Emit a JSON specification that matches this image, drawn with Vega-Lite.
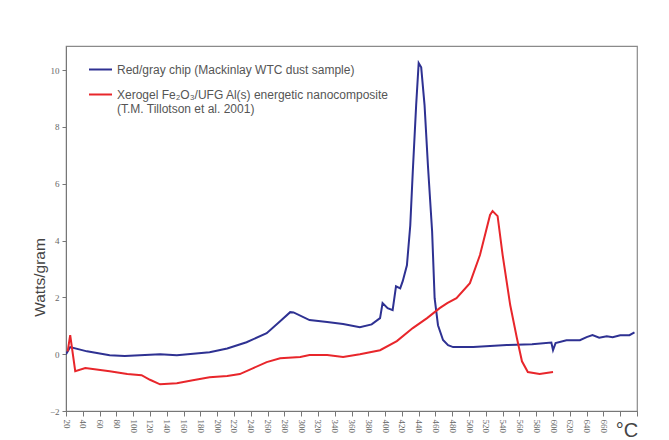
{
  "$schema": "https://vega.github.io/schema/vega-lite/v6.json",
  "width": 571,
  "height": 365,
  "autosize": {"type": "none"},
  "padding": {"left": 66, "top": 46, "right": 32, "bottom": 29},
  "background": "white",
  "config": {
    "view": {"stroke": "#8a8a8a", "strokeWidth": 1.2},
    "axis": {"grid": false, "domainColor": "#777", "tickColor": "#777", "labelFont": "Liberation Serif", "labelColor": "#666", "labelFontSize": 9, "labelOverlap": false}
  },
  "datasets": {
    "curves": [
      {"series": "Red/gray chip (Mackinlay WTC dust sample)", "T": 20, "W": 0},
      {"series": "Red/gray chip (Mackinlay WTC dust sample)", "T": 25, "W": 0.25},
      {"series": "Red/gray chip (Mackinlay WTC dust sample)", "T": 45, "W": 0.1},
      {"series": "Red/gray chip (Mackinlay WTC dust sample)", "T": 72, "W": -0.04},
      {"series": "Red/gray chip (Mackinlay WTC dust sample)", "T": 90, "W": -0.06},
      {"series": "Red/gray chip (Mackinlay WTC dust sample)", "T": 132, "W": 0},
      {"series": "Red/gray chip (Mackinlay WTC dust sample)", "T": 152, "W": -0.04},
      {"series": "Red/gray chip (Mackinlay WTC dust sample)", "T": 191, "W": 0.07},
      {"series": "Red/gray chip (Mackinlay WTC dust sample)", "T": 212, "W": 0.2},
      {"series": "Red/gray chip (Mackinlay WTC dust sample)", "T": 235, "W": 0.42},
      {"series": "Red/gray chip (Mackinlay WTC dust sample)", "T": 259, "W": 0.74},
      {"series": "Red/gray chip (Mackinlay WTC dust sample)", "T": 275, "W": 1.16},
      {"series": "Red/gray chip (Mackinlay WTC dust sample)", "T": 287, "W": 1.48},
      {"series": "Red/gray chip (Mackinlay WTC dust sample)", "T": 291, "W": 1.47},
      {"series": "Red/gray chip (Mackinlay WTC dust sample)", "T": 310, "W": 1.2},
      {"series": "Red/gray chip (Mackinlay WTC dust sample)", "T": 331, "W": 1.13},
      {"series": "Red/gray chip (Mackinlay WTC dust sample)", "T": 350, "W": 1.06},
      {"series": "Red/gray chip (Mackinlay WTC dust sample)", "T": 370, "W": 0.95},
      {"series": "Red/gray chip (Mackinlay WTC dust sample)", "T": 384, "W": 1.05},
      {"series": "Red/gray chip (Mackinlay WTC dust sample)", "T": 394, "W": 1.27},
      {"series": "Red/gray chip (Mackinlay WTC dust sample)", "T": 397, "W": 1.8},
      {"series": "Red/gray chip (Mackinlay WTC dust sample)", "T": 403, "W": 1.62},
      {"series": "Red/gray chip (Mackinlay WTC dust sample)", "T": 409, "W": 1.55},
      {"series": "Red/gray chip (Mackinlay WTC dust sample)", "T": 413, "W": 2.39},
      {"series": "Red/gray chip (Mackinlay WTC dust sample)", "T": 418, "W": 2.32},
      {"series": "Red/gray chip (Mackinlay WTC dust sample)", "T": 421, "W": 2.57},
      {"series": "Red/gray chip (Mackinlay WTC dust sample)", "T": 426, "W": 3.13},
      {"series": "Red/gray chip (Mackinlay WTC dust sample)", "T": 430, "W": 4.54},
      {"series": "Red/gray chip (Mackinlay WTC dust sample)", "T": 433, "W": 6.44},
      {"series": "Red/gray chip (Mackinlay WTC dust sample)", "T": 437, "W": 8.77},
      {"series": "Red/gray chip (Mackinlay WTC dust sample)", "T": 440, "W": 10.25},
      {"series": "Red/gray chip (Mackinlay WTC dust sample)", "T": 443, "W": 10.1},
      {"series": "Red/gray chip (Mackinlay WTC dust sample)", "T": 447, "W": 8.77},
      {"series": "Red/gray chip (Mackinlay WTC dust sample)", "T": 451, "W": 6.65},
      {"series": "Red/gray chip (Mackinlay WTC dust sample)", "T": 456, "W": 4.33},
      {"series": "Red/gray chip (Mackinlay WTC dust sample)", "T": 459, "W": 1.97},
      {"series": "Red/gray chip (Mackinlay WTC dust sample)", "T": 463, "W": 1.02},
      {"series": "Red/gray chip (Mackinlay WTC dust sample)", "T": 469, "W": 0.5},
      {"series": "Red/gray chip (Mackinlay WTC dust sample)", "T": 475, "W": 0.32},
      {"series": "Red/gray chip (Mackinlay WTC dust sample)", "T": 481, "W": 0.25},
      {"series": "Red/gray chip (Mackinlay WTC dust sample)", "T": 505, "W": 0.25},
      {"series": "Red/gray chip (Mackinlay WTC dust sample)", "T": 545, "W": 0.32},
      {"series": "Red/gray chip (Mackinlay WTC dust sample)", "T": 575, "W": 0.35},
      {"series": "Red/gray chip (Mackinlay WTC dust sample)", "T": 598, "W": 0.41},
      {"series": "Red/gray chip (Mackinlay WTC dust sample)", "T": 600, "W": 0.14},
      {"series": "Red/gray chip (Mackinlay WTC dust sample)", "T": 603, "W": 0.39},
      {"series": "Red/gray chip (Mackinlay WTC dust sample)", "T": 616, "W": 0.49},
      {"series": "Red/gray chip (Mackinlay WTC dust sample)", "T": 632, "W": 0.49},
      {"series": "Red/gray chip (Mackinlay WTC dust sample)", "T": 640, "W": 0.6},
      {"series": "Red/gray chip (Mackinlay WTC dust sample)", "T": 647, "W": 0.67},
      {"series": "Red/gray chip (Mackinlay WTC dust sample)", "T": 655, "W": 0.58},
      {"series": "Red/gray chip (Mackinlay WTC dust sample)", "T": 664, "W": 0.63},
      {"series": "Red/gray chip (Mackinlay WTC dust sample)", "T": 671, "W": 0.6},
      {"series": "Red/gray chip (Mackinlay WTC dust sample)", "T": 680, "W": 0.67},
      {"series": "Red/gray chip (Mackinlay WTC dust sample)", "T": 691, "W": 0.67},
      {"series": "Red/gray chip (Mackinlay WTC dust sample)", "T": 697, "W": 0.77},
      {"series": "Xerogel", "T": 22, "W": 0.1},
      {"series": "Xerogel", "T": 25, "W": 0.67},
      {"series": "Xerogel", "T": 31, "W": -0.6},
      {"series": "Xerogel", "T": 43, "W": -0.49},
      {"series": "Xerogel", "T": 72, "W": -0.6},
      {"series": "Xerogel", "T": 93, "W": -0.7},
      {"series": "Xerogel", "T": 110, "W": -0.74},
      {"series": "Xerogel", "T": 120, "W": -0.9},
      {"series": "Xerogel", "T": 132, "W": -1.06},
      {"series": "Xerogel", "T": 152, "W": -1.02},
      {"series": "Xerogel", "T": 171, "W": -0.92},
      {"series": "Xerogel", "T": 191, "W": -0.81},
      {"series": "Xerogel", "T": 212, "W": -0.77},
      {"series": "Xerogel", "T": 227, "W": -0.7},
      {"series": "Xerogel", "T": 243, "W": -0.49},
      {"series": "Xerogel", "T": 259, "W": -0.28},
      {"series": "Xerogel", "T": 275, "W": -0.14},
      {"series": "Xerogel", "T": 299, "W": -0.1},
      {"series": "Xerogel", "T": 310, "W": -0.03},
      {"series": "Xerogel", "T": 331, "W": -0.03},
      {"series": "Xerogel", "T": 350, "W": -0.1},
      {"series": "Xerogel", "T": 370, "W": 0},
      {"series": "Xerogel", "T": 394, "W": 0.14},
      {"series": "Xerogel", "T": 414, "W": 0.46},
      {"series": "Xerogel", "T": 433, "W": 0.92},
      {"series": "Xerogel", "T": 450, "W": 1.27},
      {"series": "Xerogel", "T": 465, "W": 1.62},
      {"series": "Xerogel", "T": 474, "W": 1.8},
      {"series": "Xerogel", "T": 485, "W": 1.97},
      {"series": "Xerogel", "T": 501, "W": 2.5},
      {"series": "Xerogel", "T": 513, "W": 3.49},
      {"series": "Xerogel", "T": 525, "W": 4.9},
      {"series": "Xerogel", "T": 528, "W": 5.04},
      {"series": "Xerogel", "T": 534, "W": 4.86},
      {"series": "Xerogel", "T": 540, "W": 3.49},
      {"series": "Xerogel", "T": 549, "W": 1.73},
      {"series": "Xerogel", "T": 557, "W": 0.56},
      {"series": "Xerogel", "T": 563, "W": -0.25},
      {"series": "Xerogel", "T": 570, "W": -0.63},
      {"series": "Xerogel", "T": 584, "W": -0.7},
      {"series": "Xerogel", "T": 600, "W": -0.63}
    ],
    "unit": [{"T": 688, "W": -2, "label": "°C"}]
  },
  "layer": [
    {
      "data": {"name": "curves"},
      "mark": {"type": "line", "strokeWidth": 2, "clip": true},
      "encoding": {
        "x": {
          "field": "T", "type": "quantitative",
          "scale": {"domain": [20, 700], "nice": false, "zero": false},
          "axis": {"title": null, "values": [20,40,60,80,100,120,140,160,180,200,220,240,260,280,300,320,340,360,380,400,420,440,460,480,500,520,540,560,580,600,620,640,660,680,700],
                   "tickCount": 60,
                   "labelExpr": "datum.value <= 660 ? datum.label : ''",
                   "labelOverlap": false, "labelBound": false, "labelFlush": false,
                   "labelAngle": 90, "labelAlign": "left", "labelBaseline": "middle", "tickSize": 5, "labelPadding": 3}
        },
        "y": {
          "field": "W", "type": "quantitative",
          "scale": {"domain": [-2, 10.85], "nice": false, "zero": false},
          "axis": {"title": "Watts/gram", "values": [-2,0,2,4,6,8,10], "tickSize": 4, "labelPadding": 3,
                   "titleFont": "Liberation Sans", "titleFontSize": 15.5, "titleFontWeight": "normal", "titleColor": "#444", "titlePadding": 2, "titleY": 231}
        },
        "color": {
          "field": "series", "type": "nominal",
          "scale": {"domain": ["Red/gray chip (Mackinlay WTC dust sample)", "Xerogel"], "range": ["#2e3192", "#e8262b"]},
          "legend": {
            "title": null, "orient": "none", "legendX": 22, "legendY": 11,
            "symbolType": "stroke", "symbolSize": 529, "symbolStrokeWidth": 2,
            "labelFont": "Liberation Sans", "labelFontSize": 12, "labelColor": "#555", "labelLimit": 450,
            "labelOffset": 4, "rowPadding": 6,
            "labelExpr": "datum.value == 'Xerogel' ? ['Xerogel Fe₂O₃/UFG Al(s) energetic nanocomposite', '(T.M. Tillotson et al. 2001)'] : datum.value"
          }
        }
      }
    },
    {
      "data": {"name": "unit"},
      "mark": {"type": "text", "font": "Liberation Sans", "fontSize": 20, "color": "#444", "baseline": "top", "dy": 10, "clip": false},
      "encoding": {
        "x": {"field": "T", "type": "quantitative"},
        "y": {"field": "W", "type": "quantitative"},
        "text": {"field": "label"}
      }
    }
  ]
}
